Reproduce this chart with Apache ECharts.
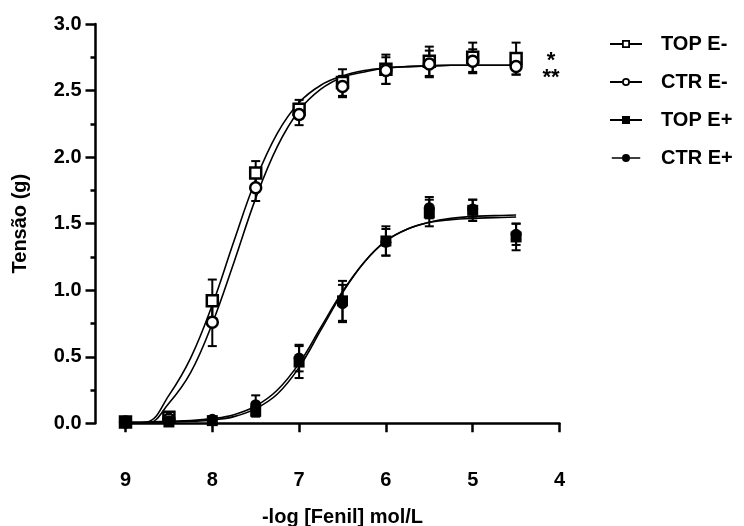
<!DOCTYPE html>
<html>
<head>
<meta charset="utf-8">
<script src="https://cdn.jsdelivr.net/npm/echarts@6/dist/echarts.min.js"></script>
<style>
  html, body { margin: 0; padding: 0; background: #fff; }
  #myChart { width: 744px; height: 526px; }
</style>
</head>
<body>
<div id="myChart"></div>
<script>
// -log [Fenil] doses
const doses = [9, 8.5, 8, 7.5, 7, 6.5, 6, 5.5, 5, 4.5];

// mean + sem
const topEm = [0.01, 0.045, 0.92, 1.88, 2.36, 2.56, 2.66, 2.72, 2.75, 2.74];
const topEmErr = [0, 0.02, 0.16, 0.09, 0.07, 0.1, 0.11, 0.11, 0.11, 0.12];
const ctrEm = [0.01, 0.03, 0.76, 1.77, 2.32, 2.53, 2.65, 2.7, 2.72, 2.68];
const ctrEmErr = [0, 0.02, 0.18, 0.1, 0.08, 0.08, 0.1, 0.1, 0.09, 0.06];
const topEp = [0.01, 0.01, 0.02, 0.09, 0.46, 0.92, 1.37, 1.58, 1.6, 1.4];
const topEpErr = [0, 0.01, 0.01, 0.04, 0.12, 0.15, 0.11, 0.1, 0.08, 0.1];
const ctrEp = [0.01, 0.02, 0.03, 0.14, 0.49, 0.9, 1.36, 1.62, 1.61, 1.42];
const ctrEpErr = [0, 0.01, 0.01, 0.07, 0.1, 0.14, 0.1, 0.08, 0.07, 0.08];

// fitted curves, every 0.25
const curveX = [9, 8.75, 8.5, 8.25, 8, 7.75, 7.5, 7.25, 7, 6.75, 6.5, 6.25, 6, 5.75, 5.5, 5.25, 5, 4.75, 4.5];
const topEmFit = [0, 0.01, 0.21, 0.49, 0.89, 1.37, 1.83, 2.18, 2.41, 2.54, 2.61, 2.65, 2.67, 2.68, 2.685, 2.69, 2.69, 2.69, 2.69];
const ctrEmFit = [0, 0, 0.15, 0.38, 0.75, 1.21, 1.69, 2.08, 2.35, 2.51, 2.6, 2.64, 2.67, 2.68, 2.685, 2.69, 2.69, 2.69, 2.69];
const topEpFit = [0.01, 0.01, 0.015, 0.02, 0.035, 0.065, 0.13, 0.25, 0.45, 0.72, 0.99, 1.21, 1.37, 1.46, 1.51, 1.54, 1.555, 1.56, 1.565];
const ctrEpFit = [0, 0.005, 0.01, 0.015, 0.025, 0.05, 0.11, 0.22, 0.42, 0.7, 0.98, 1.21, 1.37, 1.46, 1.51, 1.53, 1.54, 1.545, 1.55];

const yTicks = [0, 0.5, 1, 1.5, 2, 2.5, 3];
const legendNames = ["TOP E-", "CTR E-", "TOP E+", "CTR E+"];

const FONT = "Liberation Sans, Arial, sans-serif";

// legend icons: line with marker in the middle (hollow ones cut with reverse winding)
const lineL = "M0,3.1H12V4.9H0Z";
const lineR = "M20,3.1H32V4.9H20Z";
const icons = {
  "TOP E-": "path://" + lineL + "M12,0H20V8H12Z M13.8,1.8V6.2H18.2V1.8Z" + lineR,
  "CTR E-": "path://" + lineL + "M20,4A4,4 0 1,1 12,4A4,4 0 1,1 20,4Z M18.2,4A2.2,2.2 0 1,0 13.8,4A2.2,2.2 0 1,0 18.2,4Z" + lineR,
  "TOP E+": "path://" + lineL + "M12,0H20V8H12Z" + lineR,
  "CTR E+": "path://" + lineL + "M20.5,4A4.5,4.5 0 1,1 11.5,4A4.5,4.5 0 1,1 20.5,4Z" + lineR,
};

function fitSeries(vals) {
  return {
    type: "line",
    data: curveX.map((x, i) => [x, vals[i]]),
    showSymbol: false,
    symbol: "none",
    smooth: 0.4,
    silent: true,
    lineStyle: { color: "#000", width: 1.6, opacity: 1 },
    z: 1,
  };
}

function errSeries(vals, errs) {
  return {
    type: "custom",
    silent: true,
    data: doses.map((d, i) => [d, vals[i] - errs[i], vals[i] + errs[i]]),
    renderItem: function (params, api) {
      const x = api.value(0);
      const lo = api.coord([x, api.value(1)]);
      const hi = api.coord([x, api.value(2)]);
      const w = 4.5;
      const style = { stroke: "#000", lineWidth: 2, fill: null };
      return {
        type: "group",
        children: [
          { type: "line", shape: { x1: hi[0], y1: hi[1], x2: lo[0], y2: lo[1] }, style: style },
          { type: "line", shape: { x1: hi[0] - w, y1: hi[1], x2: hi[0] + w, y2: hi[1] }, style: style },
          { type: "line", shape: { x1: lo[0] - w, y1: lo[1], x2: lo[0] + w, y2: lo[1] }, style: style },
        ],
      };
    },
    z: 2,
  };
}

function pointSeries(name, vals, symbol, hollow) {
  return {
    type: "scatter",
    name: name,
    data: doses.map((d, i) => [d, vals[i]]),
    symbol: symbol,
    symbolSize: 11,
    itemStyle: hollow
      ? { color: "#fff", borderColor: "#000", borderWidth: 2.5, opacity: 1 }
      : { color: "#000", opacity: 1 },
    z: 3,
  };
}

const options = {
  animation: false,
  backgroundColor: "#fff",
  textStyle: { fontFamily: FONT, color: "#000" },
  grid: { left: 125.5, top: 24, width: 434, height: 399.3, outerBoundsMode: "none" },
  legend: {
    orient: "vertical",
    left: 605,
    top: 29,
    itemWidth: 32,
    itemHeight: 8,
    itemGap: 18,
    selectedMode: false,
    itemStyle: { color: "#000", borderWidth: 0, opacity: 1 },
    textStyle: {
      fontFamily: FONT,
      fontWeight: "bold",
      fontSize: 20,
      lineHeight: 20,
      color: "#000",
      padding: [0, 0, 0, 14],
    },
    data: legendNames.map((n) => ({ name: n, icon: icons[n] })),
  },
  xAxis: {
    type: "value",
    inverse: true,
    min: 4,
    max: 9,
    interval: 1,
    offset: 31,
    name: "-log [Fenil] mol/L",
    nameLocation: "middle",
    nameGap: 53,
    nameTextStyle: { fontFamily: FONT, fontWeight: "bold", fontSize: 20, color: "#000" },
    axisLine: { lineStyle: { color: "#000", width: 2.5 } },
    axisTick: { length: 9, lineStyle: { color: "#000", width: 2.5 } },
    axisLabel: { margin: 16, fontFamily: FONT, fontWeight: "bold", fontSize: 20, color: "#000" },
    splitLine: { show: false },
  },
  yAxis: {
    type: "value",
    min: yTicks[0],
    max: yTicks[yTicks.length - 1],
    interval: 0.5,
    offset: 30,
    name: "Tensão (g)",
    nameLocation: "middle",
    nameGap: 65,
    nameRotate: 90,
    nameTextStyle: { fontFamily: FONT, fontWeight: "bold", fontSize: 20, color: "#000" },
    axisLine: { show: true, lineStyle: { color: "#000", width: 2.5 } },
    axisTick: { show: true, length: 10, lineStyle: { color: "#000", width: 2.5 } },
    minorTick: { show: true, splitNumber: 2, length: 5, lineStyle: { color: "#000", width: 2.5 } },
    axisLabel: {
      margin: 14,
      fontFamily: FONT,
      fontWeight: "bold",
      fontSize: 20,
      color: "#000",
      formatter: (v) => v.toFixed(1),
    },
    splitLine: { show: false },
    minorSplitLine: { show: false },
  },
  graphic: [
    {
      type: "text",
      x: 551,
      y: 61,
      style: { text: "*", font: "bold 22px " + FONT, fill: "#000", align: "center", verticalAlign: "middle", textAlign: "center", textVerticalAlign: "middle" },
    },
    {
      type: "text",
      x: 551,
      y: 78,
      style: { text: "**", font: "bold 22px " + FONT, fill: "#000", align: "center", verticalAlign: "middle", textAlign: "center", textVerticalAlign: "middle" },
    },
  ],
  series: [
    fitSeries(topEmFit),
    fitSeries(ctrEmFit),
    fitSeries(topEpFit),
    fitSeries(ctrEpFit),
    errSeries(topEm, topEmErr),
    errSeries(ctrEm, ctrEmErr),
    errSeries(topEp, topEpErr),
    errSeries(ctrEp, ctrEpErr),
    pointSeries("TOP E-", topEm, "rect", true),
    pointSeries("CTR E-", ctrEm, "circle", true),
    pointSeries("TOP E+", topEp, "rect", false),
    pointSeries("CTR E+", ctrEp, "circle", false),
  ],
};

const depthChart = echarts.init(document.getElementById("myChart"));
depthChart.setOption(options);
</script>
</body>
</html>
